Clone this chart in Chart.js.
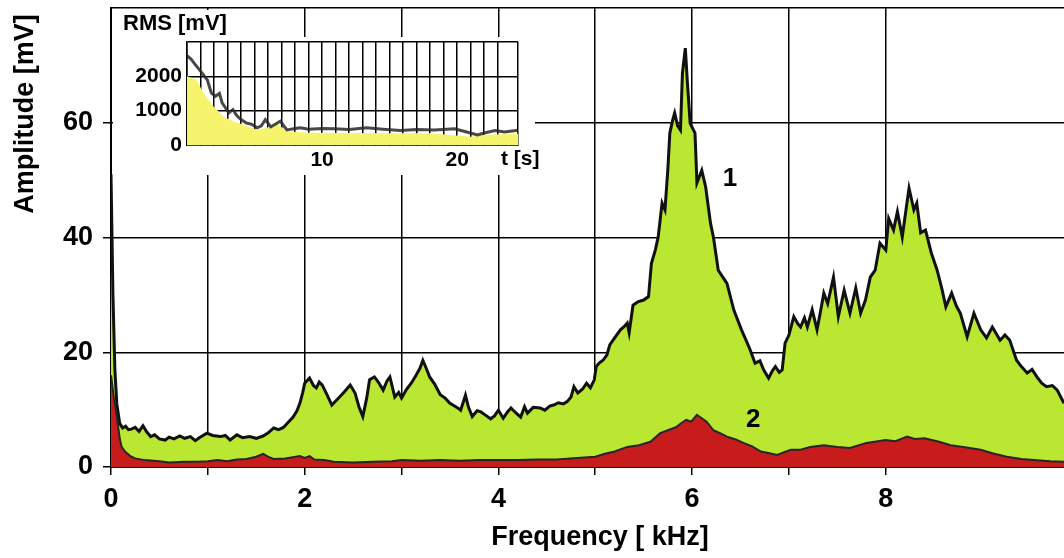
<!DOCTYPE html>
<html>
<head>
<meta charset="utf-8">
<script src="https://cdn.jsdelivr.net/npm/chart.js@4/dist/chart.umd.min.js"></script>
<style>
  body { margin: 0; background: #fff; }
  #wrap { position: relative; width: 1064px; height: 558px; }
  #inset { position: absolute; left: 113px; top: 37px; }
</style>
</head>
<body>
<div id="wrap">
  <canvas id="main" width="1064" height="558" style="width:1064px;height:558px"></canvas>
  <canvas id="inset" width="436" height="138" style="width:436px;height:138px"></canvas>
</div>
<script>
// spectrum 1 (green, upper curve)
const freq1 = [0, 0.02, 0.04, 0.06, 0.09, 0.12, 0.15, 0.18, 0.21, 0.25, 0.29, 0.33, 0.37, 0.41, 0.45, 0.5, 0.56, 0.6, 0.65, 0.71, 0.76, 0.82, 0.87, 0.92, 0.99,
  1.05, 1.13, 1.18, 1.23, 1.3, 1.36, 1.43, 1.5, 1.57, 1.62, 1.68, 1.73, 1.78, 1.83, 1.88, 1.92, 1.95, 1.98,
  2.0, 2.05, 2.09, 2.12, 2.15, 2.18, 2.23, 2.28, 2.32, 2.36, 2.41, 2.47, 2.52, 2.56, 2.6, 2.64, 2.67, 2.72, 2.76, 2.81, 2.85, 2.88, 2.93, 2.97,
  3.0, 3.05, 3.1, 3.15, 3.19, 3.22, 3.26, 3.29, 3.34, 3.4, 3.45, 3.5, 3.53, 3.58, 3.61, 3.66, 3.69, 3.73, 3.78, 3.82, 3.87, 3.92, 3.96,
  4.0, 4.05, 4.09, 4.13, 4.17, 4.23, 4.27, 4.3, 4.36, 4.43, 4.48, 4.53, 4.57, 4.62, 4.67, 4.71, 4.75, 4.78, 4.82, 4.87, 4.91, 4.95, 4.99,
  5.01, 5.04, 5.08, 5.12, 5.15, 5.2, 5.26, 5.3, 5.33, 5.35, 5.39, 5.44, 5.5, 5.55, 5.58, 5.62, 5.65, 5.69, 5.72, 5.75, 5.77, 5.8, 5.82, 5.85, 5.88, 5.9, 5.93, 5.95, 5.98,
  6.03, 6.05, 6.1, 6.14, 6.19, 6.22, 6.27, 6.32, 6.36, 6.43, 6.51, 6.56, 6.6, 6.65, 6.7, 6.74, 6.79, 6.83, 6.86, 6.9, 6.93, 6.96,
  7.0, 7.05, 7.09, 7.12, 7.16, 7.19, 7.24, 7.29, 7.33, 7.36, 7.4, 7.46, 7.51, 7.57, 7.63, 7.69, 7.74, 7.79, 7.84, 7.89, 7.94,
  8.0, 8.03, 8.08, 8.12, 8.17, 8.21, 8.24, 8.29, 8.32, 8.36, 8.41, 8.47, 8.53, 8.58, 8.62, 8.68, 8.73, 8.77, 8.84, 8.91, 8.98,
  9.04, 9.1, 9.18, 9.23, 9.28, 9.35, 9.4, 9.46, 9.51, 9.56, 9.61, 9.66, 9.72, 9.77, 9.84];
const amp1 = [51, 30, 17, 11, 7.6, 6.8, 7.1, 6.5, 6.6, 6.9, 6.2, 7.2, 6.1, 5.3, 5.6, 4.9, 4.7, 5.2, 4.9, 5.4, 5.0, 5.3, 4.6, 5.2, 5.9,
  5.5, 5.3, 5.5, 4.7, 5.6, 5.1, 5.3, 5.0, 5.4, 5.9, 6.8, 6.5, 6.9, 7.8, 8.7, 9.8, 11.1, 13.0,
  14.6, 15.5, 14.2, 13.8, 14.8, 14.3, 12.6, 10.8, 11.5, 12.2, 13.1, 14.3, 12.9, 10.5, 8.8, 12.0, 15.2, 15.7, 14.8, 13.4, 15.0, 15.7, 12.2, 13.0,
  12.0, 13.5, 14.6, 16.0, 17.2, 18.6, 17.0, 15.7, 14.5, 12.6, 12.0, 11.1, 10.8, 10.3, 9.9, 12.5, 10.5, 8.8, 9.8, 9.6, 9.0, 8.4, 8.9,
  9.9, 8.5, 9.5, 10.3, 9.6, 8.7, 10.5, 9.4, 10.4, 10.3, 9.9, 10.6, 10.8, 11.2, 11.0, 11.4, 12.2, 14.0, 12.9, 13.6, 14.6, 13.8, 15.2,
  17.5, 18.1, 18.6, 19.5, 21.3, 22.5, 23.9, 24.5, 25.1, 23.4, 28.2, 28.8, 29.1, 29.7, 35.5, 37.8, 40.1, 46.0, 44.8, 52, 58.2, 60.5, 61.7, 59.5, 58.7, 68.6, 73.0, 67.4, 59.9,
  58.2, 49.5, 51.7, 48.8, 42.5, 40.1, 34.3, 33.0, 32.0, 27.4, 23.9, 22.0, 20.4, 18.1, 18.5, 16.9, 15.5, 16.8, 17.5, 16.5, 16.9, 21.6,
  23.0, 26.2, 25.0, 24.4, 26.0, 24.4, 27.4, 23.9, 27.5, 30.3, 28.5, 33.1, 26.2, 30.8, 26.8, 31.2, 26.8, 29.1, 33.1, 34.3, 39.0,
  37.8, 43.3, 41.3, 44.5, 40.1, 45.0, 48.6, 44.8, 46.0, 40.8, 41.3, 37.3, 34.3, 31.0, 27.9, 30.3, 28.0, 26.8, 22.7, 26.8, 23.9,
  22.5, 24.4, 22.1, 23.0, 22.1, 18.6, 17.5, 16.4, 17.0, 15.7, 14.6, 14.0, 14.2, 13.4, 11.1];

// spectrum 2 (red, lower curve)
const freq2 = [0, 0.03, 0.06, 0.09, 0.11, 0.15, 0.2, 0.25, 0.35, 0.5, 0.6, 0.75, 0.9, 1.0, 1.1, 1.2, 1.3, 1.4, 1.5, 1.57, 1.62, 1.68, 1.8, 1.95,
  2.0, 2.05, 2.1, 2.2, 2.3, 2.5, 2.7, 2.9, 3.0, 3.2, 3.4, 3.6, 3.8, 4.0, 4.2, 4.4, 4.6, 4.85,
  5.0, 5.1, 5.2, 5.33, 5.45, 5.57, 5.67, 5.75, 5.84, 5.9, 5.94, 5.99, 6.05, 6.1, 6.15, 6.22, 6.3, 6.36, 6.45, 6.53, 6.62, 6.71, 6.8, 6.88, 6.95,
  7.02, 7.12, 7.22, 7.36, 7.5, 7.63, 7.8, 8.0, 8.1, 8.22, 8.3, 8.4, 8.55, 8.67, 8.8, 8.98, 9.1, 9.25, 9.4, 9.53, 9.7, 9.84];
const amp2 = [16, 12, 8.8, 5.0, 3.5, 2.6, 1.9, 1.5, 1.2, 1.0, 0.8, 0.9, 0.9, 1.0, 1.2, 1.0, 1.3, 1.4, 1.8, 2.3, 1.8, 1.4, 1.5, 1.9,
  1.6, 1.9, 1.3, 1.2, 0.9, 0.8, 0.9, 1.0, 1.2, 1.1, 1.2, 1.1, 1.2, 1.2, 1.2, 1.3, 1.3, 1.6,
  1.8, 2.3, 2.7, 3.5, 3.8, 4.4, 5.9, 6.4, 7.0, 7.8, 8.2, 7.9, 9.1, 8.5, 7.9, 6.4, 5.8, 5.3, 4.8, 4.2, 3.6, 2.7, 2.4, 2.1, 2.6,
  3.0, 3.0, 3.5, 3.8, 3.5, 3.3, 4.2, 4.7, 4.5, 5.3, 4.9, 5.0, 4.4, 3.8, 3.5, 3.0, 2.4, 1.8, 1.4, 1.2, 1.0, 0.9];

// inset: RMS over time
const tRms = [0, 0.3, 0.6, 1.0, 1.3, 1.5, 1.8, 2.1, 2.4, 2.6, 3.1, 3.4, 3.7, 4.0, 4.4, 4.8, 5.2, 5.5, 5.8, 6.2, 6.6, 6.9, 7.4, 8.0, 8.4, 9.0,
  10.0, 10.9, 12.0, 13.3, 14.5, 15.8, 17.0, 18.3, 19.8, 20.5, 21.5, 22.0, 22.8, 23.5, 24.5];
const rmsLine = [2600, 2500, 2350, 2150, 2000, 1900, 1520, 1420, 1500, 1230, 940, 1030, 850, 740, 640, 600, 500, 560, 740, 530, 620, 690, 440, 480, 500, 460,
  480, 470, 450, 500, 460, 420, 450, 440, 470, 400, 290, 350, 420, 380, 430];
const tFill = [0, 0.7, 1.2, 1.95, 2.7, 3.4, 4.2, 5.2, 6.0, 6.6, 7.4, 9, 12, 15, 18, 21, 22, 24.5];
const rmsFill = [2000, 1900, 1530, 1130, 830, 690, 590, 440, 520, 640, 390, 360, 350, 340, 340, 240, 300, 330];

const xTickLabels = [0, 2, 4, 6, 8];
const yTickLabels = [0, 20, 40, 60];
const insetXLabels = [10, 20];
const insetYLabels = [0, 1000, 2000];

const FONT = '"Liberation Sans", Arial, sans-serif';
const pts = (xs, ys) => xs.map((x, i) => ({ x: x, y: ys[i] }));

// scales must not push the plot area in for their empty edge labels
const noPad = (s) => {
    s.paddingTop = 0;
    s.paddingBottom = 0;
    s.paddingLeft = 0;
    s.paddingRight = 0;
};

const whiteBg = {
    id: 'whiteBg',
    beforeDraw: (chart, args, opts) => {
        const c = chart.ctx;
        c.save();
        c.fillStyle = '#fff';
        c.fillRect(0, 0, opts.width || chart.width, chart.height);
        c.restore();
    }
};

const mainText = {
    id: 'mainText',
    afterDraw: (chart) => {
        const c = chart.ctx;
        const xs = chart.scales.x, ys = chart.scales.y;
        c.save();
        c.fillStyle = '#000';
        c.textAlign = 'center';
        c.textBaseline = 'middle';
        c.font = 'bold 27px ' + FONT;
        c.fillText('Frequency [ kHz]', 600, 538);
        c.translate(26, 114);
        c.rotate(-Math.PI / 2);
        c.fillText('Amplitude [mV]', 0, 0);
        c.restore();

        c.save();
        c.fillStyle = '#000';
        c.textAlign = 'center';
        c.textBaseline = 'middle';
        c.font = 'bold 26px ' + FONT;
        c.fillText('1', xs.getPixelForValue(6.39), ys.getPixelForValue(50.3));
        c.fillText('2', xs.getPixelForValue(6.63), ys.getPixelForValue(8.2));

        // label of the inset sits on a white patch
        c.fillStyle = '#fff';
        c.fillRect(113, 10, 122, 27);
        c.fillStyle = '#000';
        c.textAlign = 'left';
        c.font = 'bold 22px ' + FONT;
        c.fillText('RMS [mV]', 123, 24);
        c.restore();
    }
};

new Chart(document.getElementById('main'), {
    type: 'line',
    data: {
        datasets: [
            {
                label: '2',
                data: pts(freq2, amp2),
                borderColor: '#262626',
                borderWidth: 2,
                backgroundColor: '#c81b1b',
                fill: 'origin',
                pointRadius: 0,
                tension: 0
            },
            {
                label: '1',
                data: pts(freq1, amp1),
                borderColor: '#111',
                borderWidth: 3,
                backgroundColor: '#bae832',
                fill: 'origin',
                pointRadius: 0,
                tension: 0
            }
        ]
    },
    options: {
        responsive: false,
        devicePixelRatio: 1,
        animation: false,
        layout: { padding: { top: 8, right: 0, left: 0, bottom: 0 } },
        plugins: { legend: { display: false }, tooltip: { enabled: false } },
        scales: {
            x: {
                type: 'linear',
                min: 0,
                max: 9.84,
                z: 1,
                afterFit: (s) => { s.height = 91; noPad(s); },
                ticks: {
                    stepSize: 1,
                    autoSkip: false,
                    maxRotation: 0,
                    color: '#000',
                    padding: 8,
                    font: { family: FONT, size: 27, weight: 'bold' },
                    callback: (v) => xTickLabels.includes(v) ? String(v) : ''
                },
                grid: {
                    color: (ctx) => ctx.tick && ctx.tick.value > 9.5 ? 'rgba(0,0,0,0)' : '#000',
                    lineWidth: 1.5,
                    tickLength: 8
                },
                border: { display: true, color: '#000', width: 2 }
            },
            y: {
                min: 0,
                max: 80,
                z: 1,
                afterFit: (s) => { s.width = 111; noPad(s); },
                ticks: {
                    stepSize: 20,
                    color: '#000',
                    padding: 10,
                    font: { family: FONT, size: 27, weight: 'bold' },
                    callback: (v) => yTickLabels.includes(v) ? String(v) : ''
                },
                grid: {
                    color: '#000',
                    tickColor: (ctx) => ctx.tick && ctx.tick.value === 80 ? 'rgba(0,0,0,0)' : '#000',
                    lineWidth: 1.5,
                    tickLength: 8
                },
                border: { display: true, color: '#000', width: 2 }
            }
        }
    },
    plugins: [whiteBg, mainText]
});

const insetText = {
    id: 'insetText',
    afterDraw: (chart) => {
        const c = chart.ctx;
        c.save();
        c.fillStyle = '#000';
        c.textAlign = 'left';
        c.textBaseline = 'middle';
        c.font = 'bold 21px ' + FONT;
        c.fillText('t [s]', 388, 122);
        c.restore();
    }
};

new Chart(document.getElementById('inset'), {
    type: 'line',
    data: {
        datasets: [
            {
                data: pts(tRms, rmsLine),
                borderColor: 'rgba(40,40,40,0.85)',
                borderWidth: 3,
                fill: false,
                pointRadius: 0,
                tension: 0
            },
            {
                data: pts(tFill, rmsFill),
                borderWidth: 0,
                borderColor: 'rgba(0,0,0,0)',
                backgroundColor: '#f5f46c',
                fill: 'origin',
                pointRadius: 0,
                tension: 0
            }
        ]
    },
    options: {
        responsive: false,
        devicePixelRatio: 1,
        animation: false,
        layout: { padding: { top: 5, right: 31, left: 0, bottom: 0 } },
        plugins: {
            legend: { display: false },
            tooltip: { enabled: false },
            whiteBg: { width: 422 }
        },
        scales: {
            x: {
                type: 'linear',
                min: 0,
                max: 24.5,
                z: 1,
                afterFit: (s) => { s.height = 30; noPad(s); },
                ticks: {
                    stepSize: 1,
                    autoSkip: false,
                    maxRotation: 0,
                    color: '#000',
                    padding: 3,
                    font: { family: FONT, size: 21, weight: 'bold' },
                    callback: (v) => insetXLabels.includes(v) ? String(v) : ''
                },
                grid: { color: '#000', lineWidth: 1.5, tickLength: 0 },
                border: { display: true, color: '#000', width: 1.5 }
            },
            y: {
                min: 0,
                max: 3000,
                z: 1,
                afterFit: (s) => { s.width = 74; noPad(s); },
                ticks: {
                    stepSize: 500,
                    color: '#000',
                    padding: 5,
                    font: { family: FONT, size: 21, weight: 'bold' },
                    callback: (v) => insetYLabels.includes(v) ? String(v) : ''
                },
                grid: { color: '#000', lineWidth: 1.5, tickLength: 0 },
                border: { display: true, color: '#000', width: 1.5 }
            }
        }
    },
    plugins: [whiteBg, insetText]
});
</script>
</body>
</html>
